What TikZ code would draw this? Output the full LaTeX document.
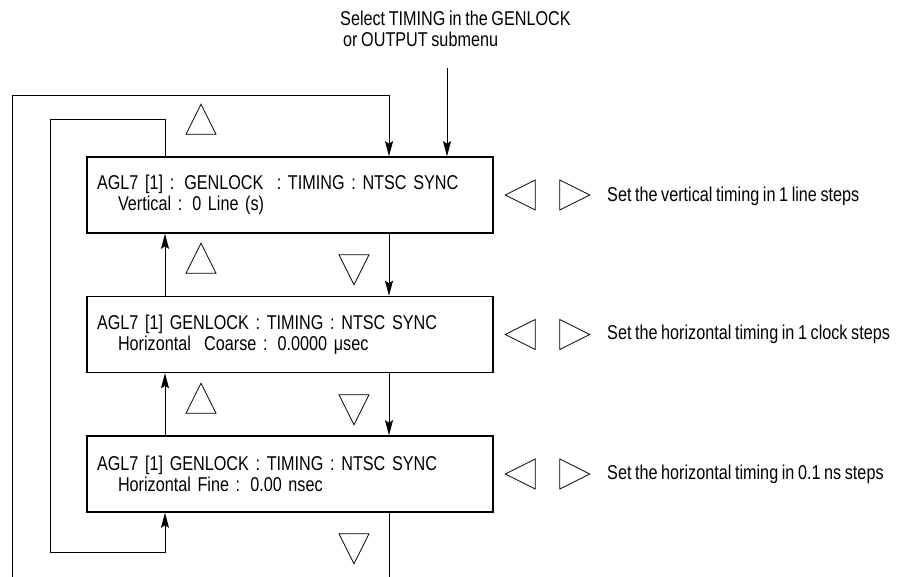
\documentclass[tikz,border=0pt]{standalone}
\usepackage{fontspec}
\setmainfont{Liberation Sans}[FakeStretch=0.81, WordSpace=0.8]
\usetikzlibrary{arrows.meta,shapes.geometric}

\begin{document}
\begin{tikzpicture}[
      x=1pt, y=-1pt,
      font=\fontsize{20}{21}\selectfont,
      screen/.style={draw, line width=1.6pt, minimum width=406pt, minimum height=76pt,
                     text width=386pt, inner xsep=10pt, align=left},
      key/.style={draw, line width=0.8pt, isosceles triangle, isosceles triangle stretches,
                  minimum width=30pt, minimum height=30pt, inner sep=0pt},
      upkey/.style={key, shape border rotate=90},
      downkey/.style={key, shape border rotate=270},
      leftkey/.style={key, shape border rotate=180},
      rightkey/.style={key, shape border rotate=0},
      note/.style={anchor=west, inner sep=0pt, align=left},
      wire/.style={line width=0.8pt},
      arr/.style={wire, -{Stealth[length=15pt, width=8pt, inset=2.5pt]}}
    ]
    \useasboundingbox (0,0) rectangle (905,577);

    % menu screens
    \node[screen] (vsync)  at (290,195)   {AGL7 [1] : GENLOCK\ \ : TIMING : NTSC SYNC\\\hspace*{21pt}Vertical : 0 Line (s)};
    \node[screen] (coarse) at (290,334.5) {AGL7 [1] GENLOCK : TIMING : NTSC SYNC\\\hspace*{21pt}Horizontal\ \ Coarse : 0.0000 μsec};
    \node[screen] (fine)   at (290,474)   {AGL7 [1] GENLOCK : TIMING : NTSC SYNC\\\hspace*{21pt}Horizontal Fine : 0.00 nsec};

    % entry
    \node[anchor=north west, inner sep=0pt, align=left] (select) at (340,11)
      {Select TIMING in the GENLOCK\\\hspace*{3pt}or OUTPUT submenu};
    \coordinate (entry) at (447,68);
    \draw[arr] (entry) -- (entry |- vsync.north);

    % columns of the up and down lines
    \coordinate (upx) at (165,0);
    \coordinate (dnx) at (389,0);

    % up / down keys
    \node[upkey]   (vup)   at (201,125) {};
    \node[upkey]   (cup)   at (201,264) {};
    \node[downkey] (vdown) at (354,264) {};
    \node[upkey]   (fup)   at (201,404) {};
    \node[downkey] (cdown) at (354,404) {};
    \node[downkey] (fdown) at (354,543) {};

    \draw[arr] (upx |- coarse.north) -- (upx |- vsync.south);
    \draw[arr] (upx |- fine.north) -- (upx |- coarse.south);
    \draw[arr] (dnx |- vsync.south) -- (dnx |- coarse.north);
    \draw[arr] (dnx |- coarse.south) -- (dnx |- fine.north);

    % wrap-around loops
    \coordinate (outerin)  at (12,577);
    \coordinate (outertop) at (389,95);
    \coordinate (outerout) at (389,577);
    \coordinate (innertop) at (50,119);
    \coordinate (innerbot) at (50,552);
    \draw[wire] (dnx |- fine.south) -- (outerout);
    \draw[arr] (outerin) |- (outertop) -- (outertop |- vsync.north);
    \draw[arr] (upx |- vsync.north) |- (innertop) -- (innerbot) -| (upx |- fine.south);

    % left / right keys
    \node[leftkey]  (vleft)   at (526,195)   {};
    \node[rightkey] (vright)  at (569,195)   {};
    \node[note]     (vnote)   at (607,196)   {Set the vertical timing in 1 line steps};
    \node[leftkey]  (cleft)   at (526,334.5) {};
    \node[rightkey] (cright)  at (569,334.5) {};
    \node[note]     (cnote)   at (607,334)   {Set the horizontal timing in 1 clock steps};
    \node[leftkey]  (fleft)   at (526,474)   {};
    \node[rightkey] (fright)  at (569,474)   {};
    \node[note]     (fnote)   at (607,474)   {Set the horizontal timing in 0.1 ns steps};
  \end{tikzpicture}
\end{document}
